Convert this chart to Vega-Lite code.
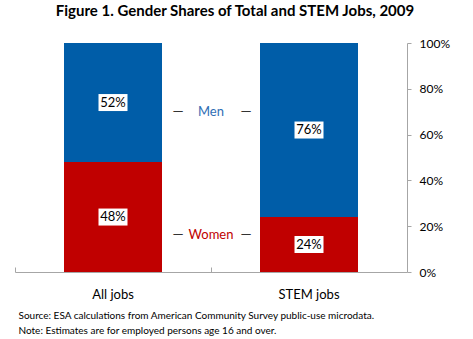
{
  "$schema": "https://vega.github.io/schema/vega-lite/v6.json",
  "width": 392,
  "height": 229,
  "autosize": {"type": "none"},
  "padding": {"left": 15, "top": 43, "right": 66, "bottom": 67},
  "background": "white",
  "config": {"font": "Lato", "view": {"stroke": null}},
  "title": {
    "text": "Figure 1. Gender Shares of Total and STEM Jobs, 2009",
    "fontSize": 15,
    "fontWeight": "bold",
    "color": "black",
    "dx": 24,
    "offset": 18
  },
  "datasets": {
    "shares": [
      {"job": "All jobs", "gender": "Women", "share": 0.48},
      {"job": "All jobs", "gender": "Men", "share": 0.52},
      {"job": "STEM jobs", "gender": "Women", "share": 0.24},
      {"job": "STEM jobs", "gender": "Men", "share": 0.76}
    ],
    "keys": [
      {"job": "All jobs", "gender": "Men", "pos": 0.70},
      {"job": "All jobs", "gender": "Women", "pos": 0.16}
    ]
  },
  "layer": [
    {
      "data": {"name": "shares"},
      "transform": [
        {"stack": "share", "groupby": ["job"], "sort": [{"field": "gender", "order": "descending"}], "as": ["y0", "y1"]}
      ],
      "mark": {"type": "bar", "width": {"band": 0.5}},
      "encoding": {
        "x": {
          "field": "job", "type": "nominal",
          "scale": {"paddingInner": 0, "paddingOuter": 0},
          "axis": {
            "labelAngle": 0, "labelFontSize": 13, "labelColor": "black", "labelPadding": 21,
            "domainColor": "#a6a6a6", "tickColor": "#a6a6a6", "tickSize": -5, "bandPosition": 0,
            "title": ["Source:  ESA calculations from American Community Survey public-use microdata.", "Note: Estimates are for employed persons age 16 and over."],
            "titleFontSize": 10, "titleFontWeight": "normal", "titleColor": "black",
            "titleAnchor": "start", "titleAlign": "left", "titleBaseline": "top",
            "titleX": 3, "titleY": 38, "titleLineHeight": 15
          }
        },
        "y": {
          "field": "y1", "type": "quantitative",
          "scale": {"domain": [0, 1], "nice": false},
          "axis": {
            "orient": "right", "format": ".0%", "values": [0, 0.2, 0.4, 0.6, 0.8, 1],
            "grid": false, "domainColor": "#a6a6a6", "tickColor": "#a6a6a6", "tickSize": 4,
            "labelFontSize": 12, "labelColor": "black", "labelPadding": 8, "title": null
          }
        },
        "y2": {"field": "y0"},
        "color": {
          "field": "gender", "type": "nominal",
          "scale": {"domain": ["Men", "Women"], "range": ["#005DA8", "#C00000"]},
          "legend": null
        }
      }
    },
    {
      "data": {"name": "shares"},
      "transform": [
        {"stack": "share", "groupby": ["job"], "sort": [{"field": "gender", "order": "descending"}], "as": ["y0", "y1"]},
        {"calculate": "(datum.y0 + datum.y1) / 2", "as": "mid"}
      ],
      "mark": {"type": "tick", "color": "white", "opacity": 1, "size": 29, "thickness": 17, "orient": "horizontal"},
      "encoding": {
        "x": {"field": "job", "type": "nominal"},
        "y": {"field": "mid", "type": "quantitative"}
      }
    },
    {
      "data": {"name": "shares"},
      "transform": [
        {"stack": "share", "groupby": ["job"], "sort": [{"field": "gender", "order": "descending"}], "as": ["y0", "y1"]},
        {"calculate": "(datum.y0 + datum.y1) / 2", "as": "mid"}
      ],
      "mark": {"type": "text", "fontSize": 13, "color": "black", "baseline": "middle"},
      "encoding": {
        "x": {"field": "job", "type": "nominal"},
        "y": {"field": "mid", "type": "quantitative"},
        "text": {"field": "share", "type": "quantitative", "format": ".0%"}
      }
    },
    {
      "data": {"name": "keys"},
      "mark": {"type": "text", "fontSize": 13, "baseline": "middle"},
      "encoding": {
        "x": {"field": "job", "type": "nominal", "bandPosition": 1},
        "y": {"field": "pos", "type": "quantitative"},
        "text": {"field": "gender", "type": "nominal"},
        "color": {
          "field": "gender", "type": "nominal",
          "scale": {"domain": ["Men", "Women"], "range": ["#2F6EB5", "#C00000"]},
          "legend": null
        }
      }
    },
    {
      "data": {"name": "keys"},
      "mark": {"type": "text", "fontSize": 14, "baseline": "middle", "color": "#333333", "dx": -33},
      "encoding": {
        "x": {"field": "job", "type": "nominal", "bandPosition": 1},
        "y": {"field": "pos", "type": "quantitative"},
        "text": {"value": "—"}
      }
    },
    {
      "data": {"name": "keys"},
      "mark": {"type": "text", "fontSize": 14, "baseline": "middle", "color": "#333333", "dx": 35},
      "encoding": {
        "x": {"field": "job", "type": "nominal", "bandPosition": 1},
        "y": {"field": "pos", "type": "quantitative"},
        "text": {"value": "—"}
      }
    }
  ],
  "resolve": {"scale": {"color": "independent"}}
}
